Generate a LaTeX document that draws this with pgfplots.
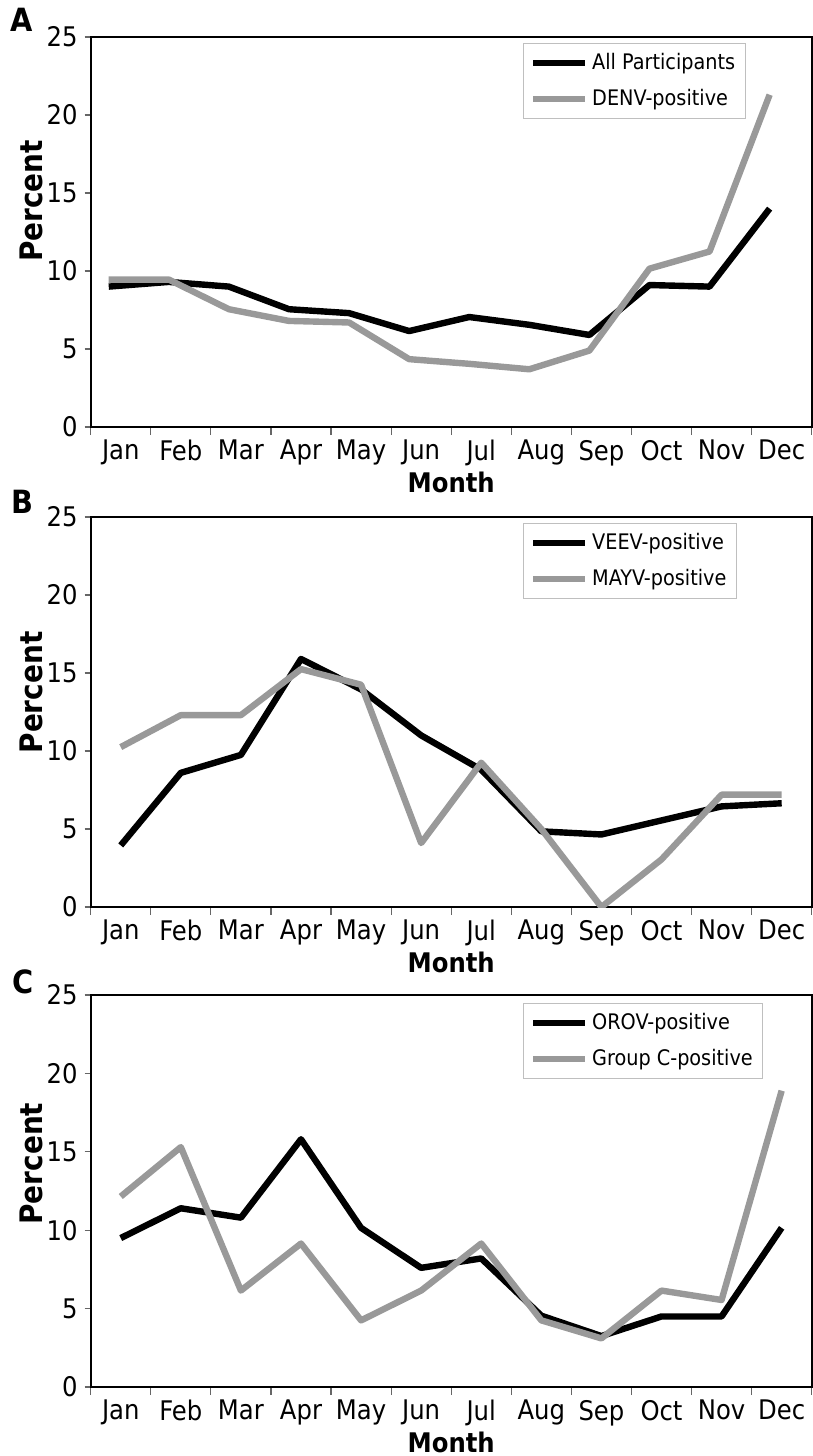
\documentclass[border=0pt]{standalone}
\usepackage{pgfplots}
\pgfplotsset{compat=1.18}
\usepackage{fontspec}
\setmainfont{DejaVu Sans Condensed}
\definecolor{lgray}{RGB}{153,153,153}
\pgfplotsset{
  panel/.style={
    scale only axis, width=360.5pt, height=195pt,
    xmin=-0.5, xmax=11.5, ymin=0, ymax=25,
    xtick={0,...,11},
    xticklabels={Jan,Feb,Mar,Apr,May,Jun,Jul,Aug,Sep,Oct,Nov,Dec},
    minor xtick={-0.5,0.5,...,11.5},
    ytick={0,5,...,25},
    xtick pos=bottom, ytick pos=left,
    tick align=outside,
    major x tick style={draw=none},
    major tick length=3pt, minor tick length=4pt,
    tick style={black!60, line width=0.6pt},
    axis line style={black, line width=1pt},
    ticklabel style={font=\fontsize{13.5}{15}\selectfont},
    /pgf/number format/assume math mode=true,
    xlabel={Month}, ylabel={Percent},
    every axis x label/.style={at={(rel axis cs:0.5,0)}, anchor=base, yshift=-32.5pt,
      font=\fontsize{13.5}{15}\selectfont\bfseries},
    ylabpos/.style={every axis y label/.style={at={(rel axis cs:0,##1)}, xshift=-23.85pt, rotate=90, anchor=base,
      font=\fontsize{15.5}{17}\selectfont\bfseries}},
    ylabpos=0.58,
    legend cell align=left,
    legend style={anchor=north west, draw=black!25, line width=0.5pt,
      font=\fontsize{10.7}{12}\selectfont, row sep=4.5pt, inner sep=3pt},
    legend image code/.code={\draw[##1] (0pt,0pt) -- (26pt,0pt);},
    blk/.style={black, line width=3.2pt, line join=round},
    gry/.style={lgray, line width=3.2pt, line join=round},
  }
}
\begin{document}
\begin{tikzpicture}
\useasboundingbox (0,0) rectangle (406.5pt,-728pt);
\node[anchor=base west, font=\fontsize{16}{18}\selectfont\bfseries, inner sep=0pt] at (5pt,-16pt) {A};
\node[anchor=base west, font=\fontsize{16}{18}\selectfont\bfseries, inner sep=0pt] at (5.5pt,-256.5pt) {B};
\node[anchor=base west, font=\fontsize{16}{18}\selectfont\bfseries, inner sep=0pt] at (6pt,-496.5pt) {C};

\begin{axis}[panel, ylabpos=0.58, at={(45.35pt,-213.5pt)}, anchor=south west,
  legend style={at={(rel axis cs:0.6,0.985)}}]
\addplot[blk] coordinates {(-0.2,9.0) (0.8,9.3) (1.8,9.0) (2.8,7.55) (3.8,7.3) (4.8,6.15) (5.8,7.05) (6.8,6.55) (7.8,5.9) (8.8,9.1) (9.8,9.0) (10.8,14.0)};
\addlegendentry{All Participants}
\addplot[gry] coordinates {(-0.2,9.45) (0.8,9.45) (1.8,7.55) (2.8,6.8) (3.8,6.7) (4.8,4.35) (5.8,4.05) (6.8,3.7) (7.8,4.9) (8.8,10.15) (9.8,11.25) (10.8,21.3)};
\addlegendentry{DENV-positive}
\end{axis}

\begin{axis}[panel, ylabpos=0.55, at={(45.35pt,-453.5pt)}, anchor=south west,
  legend style={at={(rel axis cs:0.6,0.985)}}]
\addplot[blk] coordinates {(0,3.95) (1,8.6) (2,9.75) (3,15.9) (4,13.95) (5,11.0) (6,8.8) (7,4.85) (8,4.65) (9,5.55) (10,6.45) (11,6.65)};
\addlegendentry{VEEV-positive}
\addplot[gry] coordinates {(0,10.25) (1,12.3) (2,12.3) (3,15.25) (4,14.25) (5,4.1) (6,9.25) (7,5.0) (8,0.0) (9,3.05) (10,7.2) (11,7.2)};
\addlegendentry{MAYV-positive}
\end{axis}

\begin{axis}[panel, ylabpos=0.57, height=196pt, at={(45.35pt,-693.5pt)}, anchor=south west,
  legend style={at={(rel axis cs:0.6,0.98)}}]
\addplot[blk] coordinates {(0,9.5) (1,11.4) (2,10.8) (3,15.8) (4,10.15) (5,7.6) (6,8.2) (7,4.55) (8,3.25) (9,4.5) (10,4.5) (11,10.15)};
\addlegendentry{OROV-positive}
\addplot[gry] coordinates {(0,12.15) (1,15.3) (2,6.15) (3,9.15) (4,4.25) (5,6.15) (6,9.15) (7,4.25) (8,3.1) (9,6.15) (10,5.55) (11,18.9)};
\addlegendentry{Group C-positive}
\end{axis}
\end{tikzpicture}
\end{document}
